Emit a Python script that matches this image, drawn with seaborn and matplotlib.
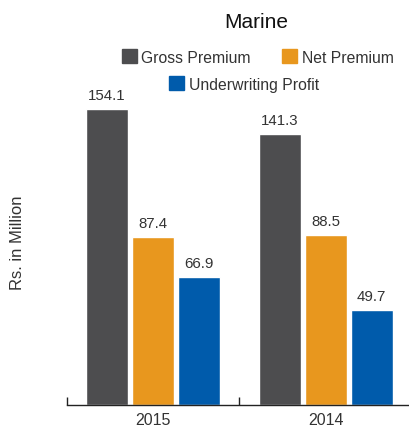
import matplotlib
matplotlib.use("Agg")
import matplotlib.pyplot as plt
import seaborn as sns
import pandas as pd

years = ["2015", "2014"]
series = ["Gross Premium", "Net Premium", "Underwriting Profit"]
gross_premium = [154.1, 141.3]
net_premium = [87.4, 88.5]
underwriting_profit = [66.9, 49.7]
colors = ["#4d4d4f", "#e8971e", "#005bab"]

rows = []
for name, vals in zip(series, [gross_premium, net_premium, underwriting_profit]):
    for y, v in zip(years, vals):
        rows.append({"Year": y, "Series": name, "Value": v})
df = pd.DataFrame(rows)

sns.set_theme(style="white")
plt.rcParams["font.family"] = ["Liberation Sans", "DejaVu Sans"]
text_color = "#333333"

fig = plt.figure(figsize=(4.09, 4.27), dpi=100)
ax = fig.add_axes([0.164, 0.049, 0.843, 0.719])

sns.barplot(data=df, x="Year", y="Value", hue="Series", order=years,
            hue_order=series, palette=colors, width=0.802, gap=0.087,
            saturation=1, ax=ax)

for cont in ax.containers:
    ax.bar_label(cont, fmt="%.1f", padding=5, fontsize=10.8, color=text_color)

ax.get_legend().remove()
handles = [plt.Rectangle((0, 0), 1, 1, color=c) for c in colors]

fig.legend(handles[:2], series[:2], ncol=2, loc="center",
           bbox_to_anchor=(0.630, 0.864), frameon=False, fontsize=11.3,
           handlelength=0.95, handleheight=0.95, handletextpad=0.3,
           columnspacing=2.0, labelcolor=text_color)
fig.legend(handles[2:], series[2:], ncol=1, loc="center",
           bbox_to_anchor=(0.597, 0.801), frameon=False, fontsize=11.3,
           handlelength=0.95, handleheight=0.95, handletextpad=0.3,
           labelcolor=text_color)

fig.text(0.626, 0.948, "Marine", ha="center", va="center", fontsize=15,
         color="#111111")

ax.set_ylim(0, 160)
ax.set_xlim(-0.5, 1.5)
ax.set_yticks([])
ax.set_ylabel("")
ax.set_xlabel("")
fig.text(0.044, 0.431, "Rs. in Million", rotation=90, ha="center",
         va="center", fontsize=12, color=text_color)

for s in ["top", "right", "left"]:
    ax.spines[s].set_visible(False)
ax.spines["bottom"].set_color("#222222")
ax.spines["bottom"].set_linewidth(1.0)

ax.set_xticks([0, 1])
ax.set_xticklabels(years, fontsize=11.5, color=text_color)
ax.tick_params(axis="x", which="major", length=0, pad=5)
ax.set_xticks([-0.5, 0.5, 1.5], minor=True)
ax.tick_params(axis="x", which="minor", direction="in", length=6,
               width=1.0, color="#222222", bottom=True)

fig.savefig("out.png", dpi=100)
